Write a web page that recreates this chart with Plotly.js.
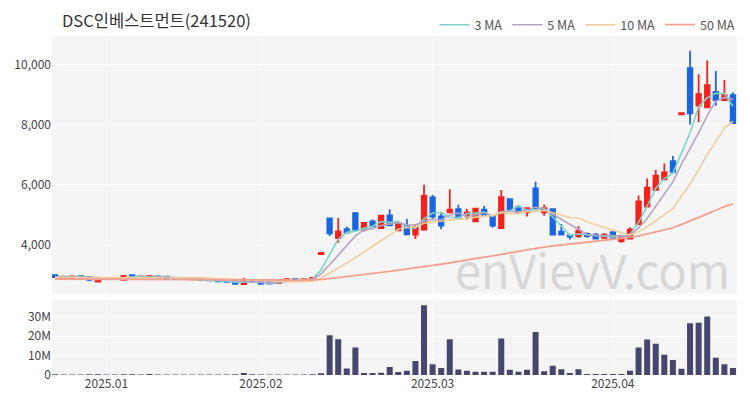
<!DOCTYPE html>
<html>
<head>
<meta charset="utf-8">
<script src="https://cdn.plot.ly/plotly-3.0.1.min.js"></script>
<style>
  html, body { margin: 0; padding: 0; background: #ffffff; }
  #chart { width: 750px; height: 400px; }
</style>
</head>
<body>
<div id="chart"></div>
<script>
const dates = [
  "2024-12-20","2024-12-23","2024-12-24","2024-12-26","2024-12-27","2024-12-30",
  "2025-01-02","2025-01-03","2025-01-06","2025-01-07","2025-01-08","2025-01-09","2025-01-10",
  "2025-01-13","2025-01-14","2025-01-15","2025-01-16","2025-01-17","2025-01-20","2025-01-21",
  "2025-01-22","2025-01-23","2025-01-24","2025-01-31",
  "2025-02-03","2025-02-04","2025-02-05","2025-02-06","2025-02-07","2025-02-10","2025-02-11",
  "2025-02-12","2025-02-13","2025-02-14","2025-02-17","2025-02-18","2025-02-19","2025-02-20",
  "2025-02-21","2025-02-24","2025-02-25","2025-02-26","2025-02-27","2025-02-28",
  "2025-03-03","2025-03-04","2025-03-05","2025-03-06","2025-03-07","2025-03-10","2025-03-11",
  "2025-03-12","2025-03-13","2025-03-14","2025-03-17","2025-03-18","2025-03-19","2025-03-20",
  "2025-03-21","2025-03-24","2025-03-25","2025-03-26","2025-03-27","2025-03-28","2025-03-31",
  "2025-04-01","2025-04-02","2025-04-03","2025-04-04","2025-04-07","2025-04-08","2025-04-09",
  "2025-04-10","2025-04-11","2025-04-14","2025-04-15","2025-04-16","2025-04-17","2025-04-18",
  "2025-04-21"
];

const openPrices = [
  3000,2890,2900,2970,2936,2790,2910,2880,2850,3000,
  2930,2930,2960,2950,2900,2880,2860,2880,2850,2840,
  2830,2800,2705,2840,2780,2780,2740,2825,2870,2825,
  2850,3700,4890,4230,4530,5064,4516,4790,4570,4990,
  4494,4626,4352,4516,5590,4956,5087,5196,4978,4790,
  5176,4956,4570,5526,5262,5087,5888,5087,5200,4450,
  4320,4297,4370,4352,4240,4428,4132,4220,4703,5285,
  5836,6197,6790,8350,9880,8637,8580,9094,8820,8985
];
const highPrices = [
  3010,2970,2975,2980,2945,2900,2920,2910,2990,3010,
  2970,2990,2970,2960,2910,2900,2890,2890,2870,2850,
  2840,2810,2920,2850,2790,2790,2830,2880,2880,2880,
  2920,3740,4920,4900,4620,5100,4760,4850,5000,5196,
  4760,4866,4700,6010,5670,5060,5855,5340,5200,5230,
  5300,4980,5836,5560,5330,5250,6108,5350,5230,4700,
  4330,4626,4420,4400,4400,4440,4320,4593,5648,6218,
  6498,6712,6966,8390,10460,9677,10140,9787,9490,9070
];
const lowPrices = [
  2930,2880,2890,2930,2800,2780,2870,2870,2840,2930,
  2920,2920,2910,2890,2870,2860,2850,2840,2820,2790,
  2770,2700,2700,2770,2700,2710,2730,2820,2820,2820,
  2840,3700,4300,4076,4400,4500,4450,4600,4560,4640,
  4480,4330,4200,4480,4850,4530,5060,4860,4850,4770,
  5000,4580,4537,5180,5070,4950,5200,4980,4330,4330,
  4190,4240,4250,4200,4230,4230,4076,4200,4660,5270,
  5800,6150,6420,8350,8010,8086,8550,8637,8800,8030
];
const closePrices = [
  2940,2955,2960,2940,2850,2890,2880,2900,2980,2940,
  2960,2975,2920,2900,2880,2870,2880,2850,2830,2800,
  2780,2715,2800,2780,2715,2720,2825,2870,2830,2870,
  2910,3740,4395,4460,4420,4516,4735,4626,4980,4660,
  4735,4362,4603,5648,4950,4650,5176,4900,5087,5209,
  5011,4650,5591,5196,5087,5229,5229,5229,4350,4352,
  4280,4483,4297,4220,4352,4240,4297,4517,5450,5911,
  6306,6415,6438,8390,8380,9018,9315,8820,8985,8053
];
const volumes = [
  350000,300000,280000,250000,400000,450000,300000,250000,420000,330000,
  260000,500000,280000,240000,220000,200000,230000,210000,260000,300000,
  320000,450000,1000000,350000,300000,280000,320000,260000,220000,240000,
  350000,900000,20500000,18500000,3400000,14200000,1000000,1000000,1100000,4100000,
  1500000,2200000,7200000,36000000,5600000,3600000,18500000,2900000,2200000,1700000,
  1700000,1700000,18800000,2700000,1700000,2700000,22200000,2000000,4800000,3000000,
  1000000,3000000,500000,500000,500000,500000,500000,2200000,14200000,18300000,
  16200000,10400000,7700000,3200000,26700000,27000000,30200000,8900000,5600000,3600000
];
const ma3 = [
  2950,2950,2952,2952,2917,2893,2873,2890,2920,2940,
  2960,2958,2952,2932,2900,2883,2877,2867,2853,2827,
  2803,2765,2765,2765,2765,2738,2753,2805,2842,2857,
  2870,3173,3682,4198,4425,4465,4557,4626,4780,4755,
  4792,4586,4567,4871,5067,5083,4925,4909,5054,5065,
  5102,4957,5084,5146,5291,5171,5182,5229,4936,4644,
  4327,4372,4353,4333,4290,4271,4296,4351,4755,5293,
  5889,6211,6386,7081,7736,8596,8904,9051,9040,8619
];
const ma5 = [
  2950,2950,2950,2950,2929,2919,2904,2892,2900,2918,
  2932,2951,2955,2939,2927,2909,2890,2876,2862,2846,
  2828,2795,2785,2775,2758,2746,2768,2782,2792,2823,
  2861,3044,3349,3675,3985,4306,4505,4551,4655,4703,
  4747,4673,4668,4802,4860,4843,5005,5065,4953,5004,
  5077,4971,5110,5131,5107,5151,5266,5194,5025,4878,
  4688,4539,4352,4326,4326,4318,4281,4325,4571,4883,
  5296,5720,6104,6692,7186,7728,8308,8785,8904,8838
];
const ma10 = [
  2920,2920,2921,2922,2923,2924,2924,2924,2924,2924,
  2926,2928,2924,2920,2923,2921,2921,2916,2901,2887,
  2869,2843,2831,2819,2802,2787,2782,2784,2784,2791,
  2804,2906,3066,3234,3404,3584,3775,3950,4165,4344,
  4527,4589,4610,4729,4782,4795,4839,4866,4877,4932,
  4960,4988,5087,5042,5056,5114,5119,5152,5078,4992,
  4919,4903,4773,4676,4602,4503,4410,4339,4449,4605,
  4807,5001,5215,5632,6034,6512,7014,7442,7896,8110
];
const ma50 = [
  2870,2868,2866,2865,2863,2862,2860,2859,2858,2857,
  2856,2855,2854,2853,2852,2851,2850,2849,2848,2847,
  2846,2845,2844,2843,2842,2842,2841,2841,2840,2840,
  2840,2857,2887,2918,2948,2981,3017,3052,3093,3129,
  3165,3195,3229,3284,3325,3365,3415,3460,3505,3555,
  3600,3640,3695,3745,3790,3840,3890,3940,3975,4005,
  4035,4070,4100,4130,4160,4190,4220,4255,4305,4365,
  4435,4505,4575,4685,4795,4915,5040,5160,5280,5370
];
const monthTicks = ["2025-01-02","2025-02-03","2025-03-03","2025-04-01"];
const monthLabels = ["2025.01","2025.02","2025.03","2025.04"];
const priceTicks = [4000,6000,8000,10000];
const priceTickText = ["4,000","6,000","8,000","10,000"];
const volTicks = [0,10000000,20000000,30000000];
const volTickText = ["0","10M","20M","30M"];

const FONT = '"Noto Sans CJK KR", "Noto Sans", sans-serif';
const UP = '#f5211c';
const DOWN = '#1a66e0';

const traces = [
  {
    type: 'candlestick', x: dates, open: openPrices, high: highPrices, low: lowPrices, close: closePrices,
    xaxis: 'x', yaxis: 'y', showlegend: false, hoverinfo: 'skip',
    increasing: { line: { color: UP, width: 1.8 }, fillcolor: UP },
    decreasing: { line: { color: DOWN, width: 1.8 }, fillcolor: DOWN },
    whiskerwidth: 0
  },
  { type: 'scatter', mode: 'lines', name: '3 MA', x: dates, y: ma3, xaxis: 'x', yaxis: 'y',
    line: { color: '#7dd3c6', width: 1.6 }, hoverinfo: 'skip' },
  { type: 'scatter', mode: 'lines', name: '5 MA', x: dates, y: ma5, xaxis: 'x', yaxis: 'y',
    line: { color: '#b3a4c6', width: 1.6 }, hoverinfo: 'skip' },
  { type: 'scatter', mode: 'lines', name: '10 MA', x: dates, y: ma10, xaxis: 'x', yaxis: 'y',
    line: { color: '#f1cc9a', width: 1.6 }, hoverinfo: 'skip' },
  { type: 'scatter', mode: 'lines', name: '50 MA', x: dates, y: ma50, xaxis: 'x', yaxis: 'y',
    line: { color: '#f4a08e', width: 1.8 }, hoverinfo: 'skip' },
  {
    type: 'bar', x: dates, y: volumes, xaxis: 'x', yaxis: 'y2', showlegend: false,
    marker: { color: '#46466f' }, hoverinfo: 'skip'
  }
];

const layout = {
  width: 750, height: 400,
  margin: { l: 52, r: 10, t: 33, b: 25 },
  paper_bgcolor: '#ffffff',
  plot_bgcolor: '#f5f5f5',
  font: { family: FONT, size: 12, color: '#444' },
  title: {
    text: 'DSC인베스트먼트(241520)',
    x: 62 / 750, xanchor: 'left', xref: 'container',
    y: 1 - 21 / 400, yanchor: 'middle', yref: 'container',
    font: { family: FONT, size: 16.5, color: '#333' }
  },
  showlegend: true,
  legend: {
    orientation: 'h', x: 1.005, xanchor: 'right', y: 1 + 11 / 342, yanchor: 'middle',
    font: { family: FONT, size: 12.5, color: '#555' }, bgcolor: 'rgba(0,0,0,0)',
    itemwidth: 30, tracegroupgap: 0
  },
  bargap: 0.3,
  boxgap: 0.25,
  xaxis: {
    type: 'category', anchor: 'y2', range: [-0.35, 79.47],
    tickmode: 'array', tickvals: monthTicks, ticktext: monthLabels,
    showgrid: true, gridcolor: '#ffffff', gridwidth: 1,
    showline: false, zeroline: false, ticks: '',
    tickfont: { family: FONT, size: 12, color: '#444' },
    rangeslider: { visible: false }, fixedrange: true
  },
  yaxis: {
    domain: [82 / 342, 1], range: [2385, 10952],
    tickmode: 'array', tickvals: priceTicks, ticktext: priceTickText,
    showgrid: true, gridcolor: '#ffffff', gridwidth: 1,
    zeroline: false, showline: false, ticks: '',
    tickfont: { family: FONT, size: 12, color: '#444' }, fixedrange: true
  },
  yaxis2: {
    domain: [0, 76 / 342], range: [0, 38900000],
    tickmode: 'array', tickvals: volTicks, ticktext: volTickText,
    showgrid: true, gridcolor: '#ffffff', gridwidth: 1,
    zeroline: false, showline: false, ticks: '',
    tickfont: { family: FONT, size: 12, color: '#444' }, fixedrange: true
  },
  annotations: [
    {
      text: 'enVievV.com', xref: 'paper', yref: 'paper',
      x: (595 - 52) / 688, y: (375 - 268) / 342, xanchor: 'center', yanchor: 'middle',
      showarrow: false, font: { family: FONT, size: 47, color: 'rgba(190,190,190,0.55)' }
    }
  ]
};

Plotly.newPlot('chart', traces, layout, { staticPlot: true, displayModeBar: false });
</script>
</body>
</html>
